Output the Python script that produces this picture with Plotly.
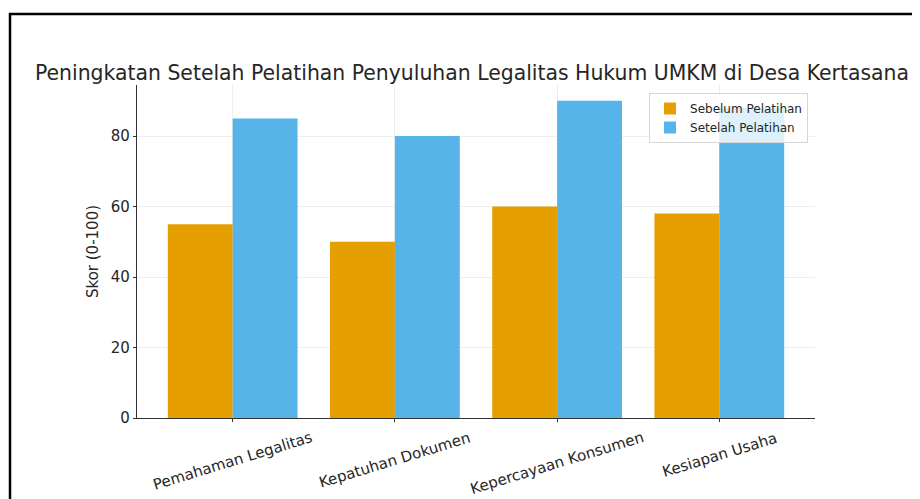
import plotly.graph_objects as go

categories = ["Pemahaman Legalitas", "Kepatuhan Dokumen", "Kepercayaan Konsumen", "Kesiapan Usaha"]
sebelum = [55, 50, 60, 58]
setelah = [85, 80, 90, 88]
series_names = ["Sebelum Pelatihan", "Setelah Pelatihan"]
title_text = "Peningkatan Setelah Pelatihan Penyuluhan Legalitas Hukum UMKM di Desa Kertasana"
y_title = "Skor (0-100)"
y_ticks = [0, 20, 40, 60, 80]

# page body has an 8px margin, so the figure is offset by 8px
W, H = 912, 491
L, T = 129, 77
R = W - 807
B = H - 410
pw = W - L - R
ph = H - T - B

FONT = "DejaVu Sans"
TXT = "#262626"

fig = go.Figure()
fig.add_trace(go.Bar(x=categories, y=sebelum, name=series_names[0],
                     marker=dict(color="#E69F00", line=dict(width=0))))
fig.add_trace(go.Bar(x=categories, y=setelah, name=series_names[1],
                     marker=dict(color="#56B4E9", line=dict(width=0))))

# rotated, centered category labels (matplotlib style)
for c in categories:
    fig.add_annotation(x=c, y=0, xref="x", yref="paper", text=c, showarrow=False,
                       textangle=-17, xanchor="center", yanchor="top", yshift=-8,
                       font=dict(family=FONT, size=15, color=TXT))

# outer black frame
fig.add_shape(type="rect", xref="paper", yref="paper",
              x0=(2 - L) / pw, x1=(W + 20 - L) / pw,
              y0=(H - B - (H + 20)) / ph, y1=(H - B - 6) / ph,
              line=dict(color="black", width=2.5), fillcolor="rgba(0,0,0,0)", layer="above")

fig.update_layout(
    width=W, height=H,
    margin=dict(l=L, r=R, t=T, b=B),
    paper_bgcolor="white", plot_bgcolor="white",
    barmode="group", bargap=0.2, bargroupgap=0,
    font=dict(family=FONT, color=TXT),
    title=dict(text=title_text, x=464 / W, xanchor="center", xref="container",
               y=1 - 65 / H, yanchor="middle", yref="container",
               font=dict(family=FONT, size=20.4, color=TXT)),
    xaxis=dict(range=[-0.59, 3.59], showticklabels=False, showgrid=True,
               gridcolor="#eeeeee", gridwidth=1, showline=True, linecolor="#333333",
               linewidth=1.2, ticks="outside", ticklen=3, tickcolor="#333333", zeroline=False),
    yaxis=dict(range=[0, 94.5], tickvals=y_ticks, showgrid=True, gridcolor="#eeeeee",
               gridwidth=1, showline=True, linecolor="#333333", linewidth=1.2,
               ticks="outside", ticklen=3, tickcolor="#333333", zeroline=False,
               tickfont=dict(family=FONT, size=15, color=TXT),
               title=dict(text=y_title, font=dict(family=FONT, size=15, color=TXT),
                          standoff=8)),
    legend=dict(x=0.9897, y=0.976, xanchor="right", yanchor="top",
                bgcolor="rgba(255,255,255,0.8)", bordercolor="#d6d6d6", borderwidth=1,
                font=dict(family=FONT, size=12, color=TXT),
                itemsizing="constant", tracegroupgap=0),
    showlegend=True,
)

fig.write_html("out.html")
